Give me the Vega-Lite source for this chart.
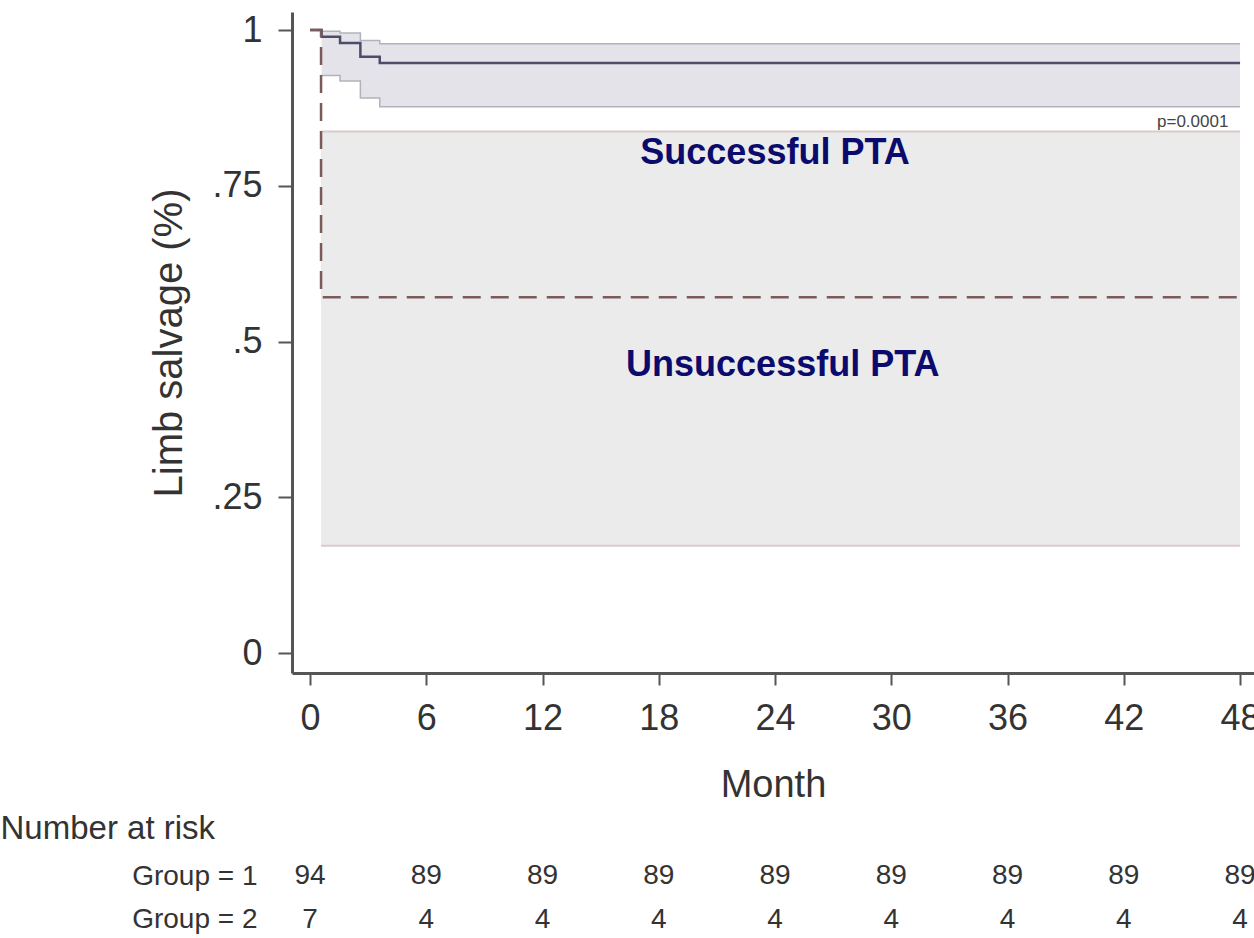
{
  "$schema": "https://vega.github.io/schema/vega-lite/v6.json",
  "padding": {"left": 0, "top": 12, "right": 0, "bottom": 0},
  "background": "white",
  "spacing": 8,
  "config": {
    "view": {"stroke": null},
    "font": "Liberation Sans",
    "axis": {"labelFont": "Liberation Sans", "titleFont": "Liberation Sans"}
  },
  "datasets": {
    "km": [
      {"group": "1", "month": 0, "surv": 1},
      {"group": "1", "month": 0.6, "surv": 0.989, "lo": 0.927, "hi": 0.998},
      {"group": "1", "month": 1.55, "surv": 0.979, "lo": 0.918, "hi": 0.995},
      {"group": "1", "month": 2.6, "surv": 0.957, "lo": 0.891, "hi": 0.983},
      {"group": "1", "month": 3.6, "surv": 0.947, "lo": 0.877, "hi": 0.978},
      {"group": "1", "month": 48, "surv": 0.947, "lo": 0.877, "hi": 0.978},
      {"group": "2", "month": 0, "surv": 1},
      {"group": "2", "month": 0.57, "surv": 0.571, "lo": 0.172, "hi": 0.837},
      {"group": "2", "month": 48, "surv": 0.571, "lo": 0.172, "hi": 0.837}
    ],
    "notes": [
      {"kind": "big", "label": "Successful PTA", "month": 24, "surv": 0.803},
      {"kind": "big", "label": "Unsuccessful PTA", "month": 24.4, "surv": 0.462},
      {"kind": "small", "label": "p=0.0001", "month": 47.4, "surv": 0.852}
    ],
    "risk": [
      {"grp": "Group = 1", "month": 0, "n": 94},
      {"grp": "Group = 1", "month": 6, "n": 89},
      {"grp": "Group = 1", "month": 12, "n": 89},
      {"grp": "Group = 1", "month": 18, "n": 89},
      {"grp": "Group = 1", "month": 24, "n": 89},
      {"grp": "Group = 1", "month": 30, "n": 89},
      {"grp": "Group = 1", "month": 36, "n": 89},
      {"grp": "Group = 1", "month": 42, "n": 89},
      {"grp": "Group = 1", "month": 48, "n": 89},
      {"grp": "Group = 2", "month": 0, "n": 7},
      {"grp": "Group = 2", "month": 6, "n": 4},
      {"grp": "Group = 2", "month": 12, "n": 4},
      {"grp": "Group = 2", "month": 18, "n": 4},
      {"grp": "Group = 2", "month": 24, "n": 4},
      {"grp": "Group = 2", "month": 30, "n": 4},
      {"grp": "Group = 2", "month": 36, "n": 4},
      {"grp": "Group = 2", "month": 42, "n": 4},
      {"grp": "Group = 2", "month": 48, "n": 4}
    ]
  },
  "vconcat": [
    {
      "width": 962,
      "height": 661,
      "data": {"name": "km"},
      "encoding": {
        "x": {
          "field": "month",
          "type": "quantitative",
          "scale": {"domain": [-0.929, 48.72], "nice": false, "zero": false},
          "axis": {
            "values": [0, 6, 12, 18, 24, 30, 36, 42, 48],
            "title": "Month",
            "titleFontSize": 38,
            "titleFontWeight": "normal",
            "titleColor": "#333333",
            "titlePadding": 30,
            "labelFontSize": 36,
            "labelColor": "#333333",
            "labelPadding": 16,
            "labelFlush": false,
            "labelOverlap": false,
            "tickSize": 12,
            "tickWidth": 2,
            "tickColor": "#555555",
            "domainColor": "#555555",
            "domainWidth": 3,
            "grid": false
          }
        }
      },
      "layer": [
        {
          "transform": [{"filter": "datum.group == '2' && isValid(datum.lo)"}],
          "mark": {"type": "area", "interpolate": "step-after", "color": "#ebebeb"},
          "encoding": {
            "y": {
              "field": "lo",
              "type": "quantitative",
              "scale": {"domain": [-0.0321, 1.0289], "nice": false, "zero": false},
              "axis": {
                "values": [0, 0.25, 0.5, 0.75, 1],
                "labelExpr": "datum.value == 0 ? '0' : datum.value == 1 ? '1' : datum.value == 0.25 ? '.25' : datum.value == 0.5 ? '.5' : '.75'",
                "title": "Limb salvage (%)",
                "titleFontSize": 40,
                "titleFontWeight": "normal",
                "titleColor": "#333333",
                "titlePadding": 22,
                "labelFontSize": 36,
                "labelColor": "#333333",
                "labelPadding": 16,
                "tickSize": 14,
                "tickWidth": 2,
                "tickColor": "#555555",
                "domainColor": "#555555",
                "domainWidth": 3,
                "grid": false
              }
            },
            "y2": {"field": "hi"}
          }
        },
        {
          "transform": [
            {"filter": "datum.group == '2' && isValid(datum.lo)"},
            {"fold": ["lo", "hi"], "as": ["bound", "val"]}
          ],
          "mark": {"type": "line", "interpolate": "step-after", "color": "#dccaca", "strokeWidth": 2},
          "encoding": {
            "y": {"field": "val", "type": "quantitative"},
            "detail": {"field": "bound"}
          }
        },
        {
          "transform": [{"filter": "datum.group == '1' && isValid(datum.lo)"}],
          "mark": {"type": "area", "interpolate": "step-after", "color": "#e3e3e9"},
          "encoding": {
            "y": {"field": "lo", "type": "quantitative"},
            "y2": {"field": "hi"}
          }
        },
        {
          "transform": [
            {"filter": "datum.group == '1' && isValid(datum.lo)"},
            {"fold": ["lo", "hi"], "as": ["bound", "val"]}
          ],
          "mark": {"type": "line", "interpolate": "step-after", "color": "#b2b2bc", "strokeWidth": 1.5},
          "encoding": {
            "y": {"field": "val", "type": "quantitative"},
            "detail": {"field": "bound"}
          }
        },
        {
          "transform": [{"filter": "datum.group == '1'"}],
          "mark": {"type": "line", "interpolate": "step-after", "color": "#4d4d6b", "strokeWidth": 2.5},
          "encoding": {"y": {"field": "surv", "type": "quantitative"}}
        },
        {
          "transform": [{"filter": "datum.group == '2'"}],
          "mark": {"type": "line", "interpolate": "step-after", "color": "#7d5a5a", "strokeWidth": 2.5, "strokeDash": [18, 10]},
          "encoding": {"y": {"field": "surv", "type": "quantitative"}}
        },
        {
          "data": {"name": "notes"},
          "transform": [{"filter": "datum.kind == 'big'"}],
          "mark": {"type": "text", "font": "Liberation Sans", "fontWeight": "bold", "fontSize": 36, "color": "#0b0b6e", "align": "center", "baseline": "middle"},
          "encoding": {
            "y": {"field": "surv", "type": "quantitative"},
            "text": {"field": "label"}
          }
        },
        {
          "data": {"name": "notes"},
          "transform": [{"filter": "datum.kind == 'small'"}],
          "mark": {"type": "text", "font": "Liberation Sans", "fontSize": 17, "color": "#444444", "align": "right", "baseline": "middle"},
          "encoding": {
            "y": {"field": "surv", "type": "quantitative"},
            "text": {"field": "label"}
          }
        }
      ]
    },
    {
      "width": 962,
      "height": 70,
      "data": {"name": "risk"},
      "mark": {"type": "text", "font": "Liberation Sans", "fontSize": 28, "color": "#333333", "align": "center", "baseline": "middle"},
      "encoding": {
        "x": {
          "field": "month",
          "type": "quantitative",
          "scale": {"domain": [-0.929, 48.72], "nice": false, "zero": false},
          "axis": null
        },
        "y": {
          "field": "grp",
          "type": "nominal",
          "scale": {"type": "point", "padding": 0.3},
          "axis": {
            "title": "Number at risk",
            "titleAngle": 0,
            "titleAlign": "left",
            "titleBaseline": "middle",
            "titleX": -292,
            "titleY": -35,
            "titleFontSize": 33,
            "titleFontWeight": "normal",
            "titleColor": "#333333",
            "labelFontSize": 28,
            "labelColor": "#333333",
            "labelPadding": 35,
            "domain": false,
            "ticks": false,
            "grid": false
          }
        },
        "text": {"field": "n", "type": "quantitative"}
      }
    }
  ]
}
